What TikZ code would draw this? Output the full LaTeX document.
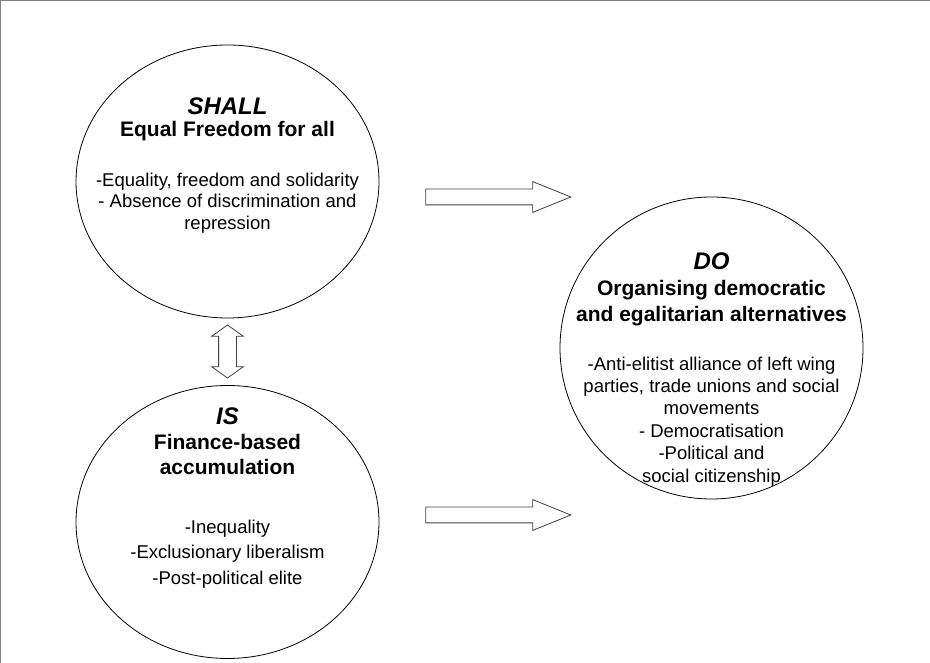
\documentclass[tikz,border=0pt]{standalone}
\usepackage{fontspec}
\setmainfont{Liberation Sans}
\usetikzlibrary{shapes.geometric,shapes.arrows,positioning}
\newcommand{\ovalhead}[1]{{\fontsize{24}{22}\selectfont\bfseries\itshape #1}}
\newcommand{\ovalsub}[1]{{\fontsize{21}{22}\selectfont\bfseries #1}}

\begin{document}
\begin{tikzpicture}[x=1pt,y=1pt]
\tikzstyle{vertex}=[ellipse,draw=black,line width=0.8pt,
inner sep=0pt,minimum width=303pt,minimum height=273pt]
\tikzstyle{words}=[align=center,inner sep=0pt,anchor=north]
\tikzstyle{fatarrow}=[single arrow,draw=black!75,line width=0.8pt,
inner sep=7.5pt,minimum height=145pt,single arrow head extend=7.5pt,
single arrow tip angle=44]
\useasboundingbox (0,0) rectangle (930,663);
\draw[black!50,line width=1.2pt] (0.6,0) -- (0.6,662.4) -- (930,662.4);

\node[vertex] at (227.5,481.5) (shall) {};
\node[vertex,below of=shall,node distance=340.5pt] (is) {};
\node[vertex,right of=shall,node distance=484pt,yshift=-166.5pt,
minimum height=302pt] (do) {};

\node[words,yshift=-52.5pt,font=\fontsize{18.5}{21.7}\selectfont] at (shall.north) (shalltext)
{\ovalhead{SHALL}\\[0.3pt] \ovalsub{Equal Freedom for all}\\[28.3pt]
-Equality, freedom and solidarity\\ - Absence of discrimination and\\ repression};
\node[words,yshift=-22.4pt,font=\fontsize{18.5}{25.5}\selectfont] at (is.north) (istext)
{\ovalhead{IS}\\[-0.5pt] \ovalsub{Finance-based}\\[-0.5pt] \ovalsub{accumulation}\\[33.5pt]
-Inequality\\ -Exclusionary liberalism\\ -Post-political elite};
\node[words,yshift=-55.5pt,font=\fontsize{18.5}{22.4}\selectfont] at (do.north) (dotext)
{\ovalhead{DO}\\[3.6pt] \ovalsub{Organising democratic}\\[3.6pt]
\ovalsub{and egalitarian alternatives}\\[26.6pt]
-Anti-elitist alliance of left wing\\ parties, trade unions and social\\ movements\\
- Democratisation\\ -Political and\\ social citizenship};

\node[fatarrow] at (488.5,466) (arr1) {};
\node[fatarrow] at (488.5,148) (arr2) {};
\node[double arrow,draw=black!75,line width=0.8pt,rotate=90,
inner sep=8.5pt,minimum height=53pt,double arrow head extend=7pt,
double arrow tip angle=109] at (227.5,311.5) (dbl) {};

\end{tikzpicture}
\end{document}
